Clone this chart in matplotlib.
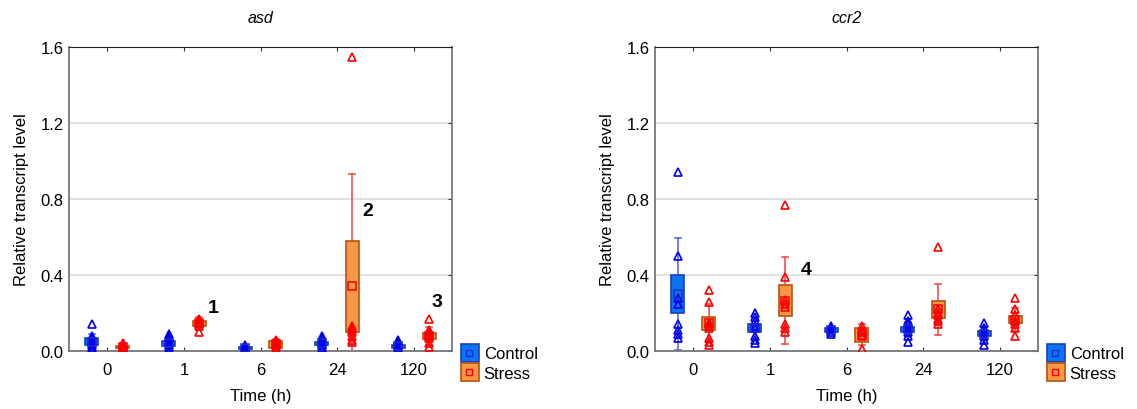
import numpy as np
import matplotlib
matplotlib.use("Agg")
import matplotlib.pyplot as plt
from matplotlib.lines import Line2D
from matplotlib.legend_handler import HandlerTuple

plt.rcParams['font.family'] = ['Liberation Sans', 'DejaVu Sans']

times = ["0", "1", "6", "24", "120"]

# asd: mean, SE (box half height), SD (whisker half length), raw points
asd_ctrl_mean = [0.050, 0.040, 0.015, 0.040, 0.025]
asd_ctrl_se = [0.018, 0.014, 0.005, 0.008, 0.007]
asd_ctrl_sd = [0.040, 0.030, 0.010, 0.025, 0.020]
asd_ctrl_pts = [
    [0.14, 0.08, 0.07, 0.06, 0.05, 0.04, 0.03, 0.02, 0.01, 0.01],
    [0.09, 0.08, 0.07, 0.06, 0.05, 0.04, 0.03, 0.02, 0.01, 0.00],
    [0.03, 0.02, 0.015, 0.01, 0.01, 0.00],
    [0.08, 0.07, 0.06, 0.05, 0.04, 0.03, 0.02, 0.01, 0.01],
    [0.06, 0.05, 0.04, 0.03, 0.02, 0.01, 0.00],
]
asd_str_mean = [0.020, 0.145, 0.035, 0.340, 0.078]
asd_str_se = [0.004, 0.015, 0.017, 0.240, 0.017]
asd_str_sd = [0.015, 0.035, 0.028, 0.590, 0.048]
asd_str_pts = [
    [0.04, 0.03, 0.03, 0.02, 0.02, 0.01, 0.01, 0.01],
    [0.17, 0.16, 0.15, 0.14, 0.13, 0.10],
    [0.06, 0.05, 0.04, 0.03, 0.02, 0.01],
    [1.55, 0.13, 0.12, 0.11, 0.10, 0.08, 0.06, 0.05],
    [0.17, 0.11, 0.10, 0.09, 0.08, 0.07, 0.04, 0.02],
]

# ccr2
ccr2_ctrl_mean = [0.300, 0.120, 0.110, 0.115, 0.092]
ccr2_ctrl_se = [0.102, 0.020, 0.010, 0.013, 0.012]
ccr2_ctrl_sd = [0.295, 0.050, 0.015, 0.040, 0.035]
ccr2_ctrl_pts = [
    [0.94, 0.50, 0.28, 0.25, 0.14, 0.11, 0.09, 0.07],
    [0.20, 0.18, 0.16, 0.13, 0.12, 0.08, 0.06, 0.04],
    [0.13, 0.12, 0.11, 0.10, 0.09],
    [0.19, 0.16, 0.14, 0.12, 0.10, 0.08, 0.05],
    [0.15, 0.12, 0.10, 0.08, 0.06, 0.03],
]
ccr2_str_mean = [0.145, 0.265, 0.085, 0.220, 0.165]
ccr2_str_se = [0.035, 0.080, 0.035, 0.045, 0.018]
ccr2_str_sd = [0.100, 0.230, 0.055, 0.135, 0.060]
ccr2_str_pts = [
    [0.32, 0.26, 0.15, 0.14, 0.13, 0.12, 0.07, 0.05, 0.03],
    [0.77, 0.39, 0.27, 0.25, 0.23, 0.14, 0.12, 0.10],
    [0.13, 0.11, 0.10, 0.08, 0.01],
    [0.55, 0.22, 0.20, 0.19, 0.17, 0.16, 0.14],
    [0.28, 0.22, 0.19, 0.16, 0.14, 0.12, 0.08],
]

notes_asd = [("1", 1.38, 0.23), ("2", 3.40, 0.74), ("3", 4.30, 0.26)]
notes_ccr2 = [("4", 1.47, 0.43)]

ctrl_style = dict(face="#0a74f5", edge="#1c3fb8", pt="#0000ee", wh="#6666e6", mean="#1a2fd0")
str_style = dict(face="#f79646", edge="#b5550d", pt="#ff0000", wh="#f05050", mean="#ff0000")


def draw_group(ax, xs, means, ses, sds, pts, st):
    w = 0.17
    for x, m, se, sd, p in zip(xs, means, ses, sds, pts):
        ax.plot([x, x], [m - sd, m + sd], color=st["wh"], lw=1.2, zorder=2)
        ax.plot([x - 0.04, x + 0.04], [m + sd, m + sd], color=st["wh"], lw=1.2, zorder=2)
        ax.plot([x - 0.04, x + 0.04], [m - sd, m - sd], color=st["wh"], lw=1.2, zorder=2)
        ax.bar(x, 2 * se, bottom=m - se, width=w, color=st["face"],
               edgecolor=st["edge"], linewidth=1.2, zorder=3)
        ax.plot([x] * len(p), p, linestyle="none", marker="^", ms=5.5,
                mfc="none", mec=st["pt"], mew=1.2, zorder=4)
        ax.plot([x], [m], marker="s", ms=5.5, mfc="none", mec=st["mean"],
                mew=1.1, zorder=5)


def setup(ax, title, notes):
    ax.set_xlim(-0.5, 4.5)
    ax.set_ylim(0, 1.6)
    ax.set_yticks([0.0, 0.4, 0.8, 1.2, 1.6])
    ax.set_yticklabels(["0.0", "0.4", "0.8", "1.2", "1.6"])
    ax.set_xticks(range(len(times)))
    ax.set_xticklabels(times)
    ax.yaxis.grid(True, color="#dddddd", lw=1.2)
    ax.set_axisbelow(True)
    ax.tick_params(direction="in", top=True, right=True, length=3,
                   labelsize=12, color="#333333", pad=8)
    ax.tick_params(axis="y", left=False, pad=4)
    for s in ["left", "bottom", "right"]:
        ax.spines[s].set_color("#777777")
        ax.spines[s].set_linewidth(1.3)
    ax.spines["top"].set_color("#222222")
    ax.set_title(title, style="italic", fontsize=11.5, pad=18)
    ax.set_ylabel("Relative transcript level", fontsize=12, labelpad=8)
    ax.set_xlabel("Time (h)", fontsize=12, labelpad=8)
    for t, x, y in notes:
        ax.text(x, y, t, fontsize=14, fontweight="bold", ha="center", va="center")
    h_ctrl = (Line2D([], [], ls="none", marker="s", ms=13, mfc=ctrl_style["face"],
                     mec=ctrl_style["edge"], mew=1.2),
              Line2D([], [], ls="none", marker="s", ms=5, mfc="none",
                     mec=ctrl_style["mean"], mew=1))
    h_str = (Line2D([], [], ls="none", marker="s", ms=13, mfc=str_style["face"],
                    mec=str_style["edge"], mew=1.2),
             Line2D([], [], ls="none", marker="s", ms=5, mfc="none",
                    mec=str_style["mean"], mew=1))
    ax.legend([h_ctrl, h_str], ["Control", "Stress"],
              handler_map={tuple: HandlerTuple(ndivide=None, pad=-1.0)},
              loc="lower left", bbox_to_anchor=(1.0, -0.13), frameon=False,
              fontsize=12, handlelength=0.9, handletextpad=0.4,
              labelspacing=0.25, borderaxespad=0.2)


fig = plt.figure(figsize=(11.37, 4.10), dpi=100)
ax1 = fig.add_axes([69 / 1137, 58 / 410, 383 / 1137, 304 / 410])
ax2 = fig.add_axes([655 / 1137, 58 / 410, 383 / 1137, 304 / 410])

x = np.arange(len(times))
off = 0.2
draw_group(ax1, x - off, asd_ctrl_mean, asd_ctrl_se, asd_ctrl_sd, asd_ctrl_pts, ctrl_style)
draw_group(ax1, x + off, asd_str_mean, asd_str_se, asd_str_sd, asd_str_pts, str_style)
draw_group(ax2, x - off, ccr2_ctrl_mean, ccr2_ctrl_se, ccr2_ctrl_sd, ccr2_ctrl_pts, ctrl_style)
draw_group(ax2, x + off, ccr2_str_mean, ccr2_str_se, ccr2_str_sd, ccr2_str_pts, str_style)

setup(ax1, "asd", notes_asd)
setup(ax2, "ccr2", notes_ccr2)

fig.savefig("out.png", dpi=100)
